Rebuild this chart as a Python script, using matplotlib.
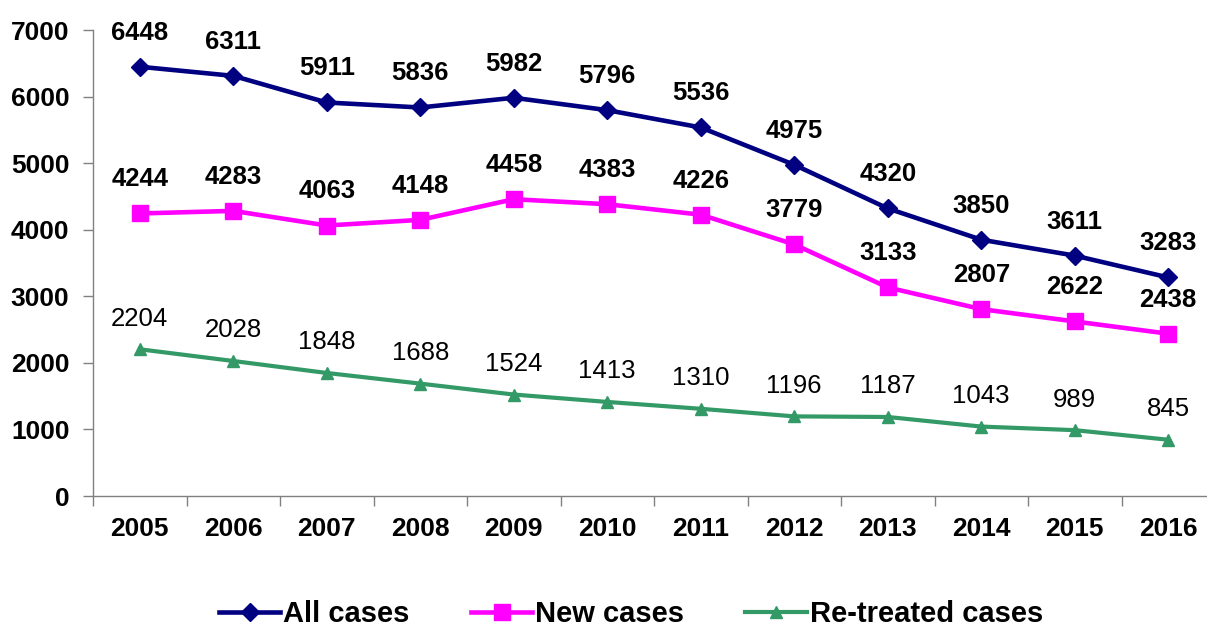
import matplotlib
matplotlib.use("Agg")
import matplotlib.pyplot as plt
from matplotlib.ticker import FixedLocator, NullFormatter

# Yearly case counts
years = ['2005', '2006', '2007', '2008', '2009', '2010',
         '2011', '2012', '2013', '2014', '2015', '2016']
all_cases = [6448, 6311, 5911, 5836, 5982, 5796, 5536, 4975, 4320, 3850, 3611, 3283]
new_cases = [4244, 4283, 4063, 4148, 4458, 4383, 4226, 3779, 3133, 2807, 2622, 2438]
retreated_cases = [2204, 2028, 1848, 1688, 1524, 1413, 1310, 1196, 1187, 1043, 989, 845]

plt.rcParams['font.family'] = ['Liberation Sans', 'DejaVu Sans']

fig = plt.figure(figsize=(12.07, 6.28), dpi=100)
ax = fig.add_axes([93 / 1207, 1 - 496 / 628, 1122 / 1207, 466 / 628])

x = list(range(len(years)))

series = [
    (all_cases, 'All cases', '#000080', 'D', 9.5, 3.3, 'bold', 24.5),
    (new_cases, 'New cases', '#FF00FF', 's', 12, 3.3, 'bold', 24.5),
    (retreated_cases, 'Re-treated cases', '#339966', '^', 8, 3.0, 'normal', 22),
]

for values, name, color, marker, msize, lw, weight, dy in series:
    ax.plot(x, values, color=color, linewidth=lw, marker=marker,
            markersize=msize, markeredgecolor=color, markerfacecolor=color,
            label=name, clip_on=False, zorder=3)
    for xi, v in zip(x, values):
        ax.annotate(str(v), (xi, v), xytext=(0, dy), textcoords='offset points',
                    ha='center', va='center', fontsize=18.5, fontweight=weight,
                    color='black', annotation_clip=False)

ax.set_xlim(-0.5, len(years) - 0.5)
ax.set_ylim(0, 7000)
ax.set_yticks(range(0, 7001, 1000))
ax.set_yticklabels([str(v) for v in range(0, 7001, 1000)],
                   fontsize=19, fontweight='bold')

# category boundaries carry the tick marks, labels sit at the centres
ax.xaxis.set_major_locator(FixedLocator([i - 0.5 for i in range(len(years) + 1)]))
ax.xaxis.set_major_formatter(NullFormatter())
ax.xaxis.set_minor_locator(FixedLocator(x))
ax.set_xticklabels(years, minor=True, fontsize=19, fontweight='bold')
ax.tick_params(axis='x', which='minor', length=0, pad=15)
ax.tick_params(axis='x', which='major', length=7, width=1, color='#808080')
ax.tick_params(axis='y', length=7, width=1, color='#808080', pad=10)

for side in ['top', 'right']:
    ax.spines[side].set_visible(False)
for side in ['left', 'bottom']:
    ax.spines[side].set_color('#808080')
    ax.spines[side].set_linewidth(1)

leg = fig.legend(loc='center', bbox_to_anchor=(631 / 1207, 1 - 614 / 628),
                 ncol=3, frameon=False, handlelength=2.1, handletextpad=0.1,
                 columnspacing=2.1, prop={'size': 21, 'weight': 'bold'})

fig.savefig('out.png', dpi=100)
